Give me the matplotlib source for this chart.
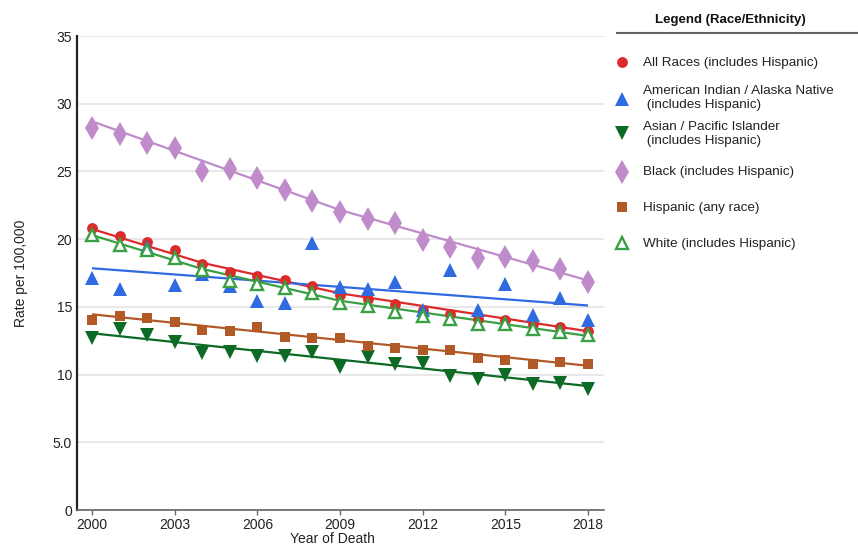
import matplotlib
matplotlib.use("Agg")
import matplotlib.pyplot as plt
from matplotlib.lines import Line2D

plt.rcParams['font.family'] = ['Liberation Sans', 'DejaVu Sans']

# ---- data: age-adjusted rates per 100,000 by year of death ----
years = list(range(2000, 2019))

all_races = [20.8, 20.25, 19.8, 19.2, 18.2, 17.6, 17.3, 16.95, 16.55, 15.85,
             15.55, 15.2, 14.75, 14.5, 14.1, 14.05, 13.7, 13.5, 13.2]
aian = [17.1, 16.35, 19.4, 16.6, 17.45, 16.55, 15.4, 15.3, 19.7, 16.5,
        16.35, 16.85, 14.8, 17.75, 14.8, 16.7, 14.4, 15.65, 14.0]
api = [12.7, 13.4, 12.9, 12.4, 11.6, 11.65, 11.35, 11.35, 11.65, 10.55,
       11.3, 10.75, 10.85, 9.9, 9.7, 10.0, 9.3, 9.35, 8.9]
black = [28.2, 27.75, 27.1, 26.7, 25.0, 25.2, 24.5, 23.6, 22.8, 22.0,
         21.5, 21.2, 19.9, 19.4, 18.6, 18.7, 18.4, 17.8, 16.85]
hispanic = [14.05, 14.35, 14.2, 13.9, 13.3, 13.2, 13.5, 12.8, 12.7, 12.7,
            12.1, 11.95, 11.8, 11.8, 11.25, 11.05, 10.75, 10.9, 10.8]
white = [20.3, 19.6, 19.2, 18.6, 17.7, 16.9, 16.7, 16.4, 16.0, 15.25,
         15.05, 14.6, 14.3, 14.1, 13.7, 13.7, 13.4, 13.15, 12.95]

# joinpoint trend fits (segment end years and fitted values)
all_fit_years = [2000, 2004, 2009, 2018]
all_fit = [20.75, 18.25, 16.0, 13.2]
aian_fit_years = [2000, 2018]
aian_fit = [17.85, 15.1]
api_fit_years = [2000, 2018]
api_fit = [13.05, 9.15]
black_fit_years = [2000, 2009, 2018]
black_fit = [28.7, 22.15, 16.95]
hisp_fit_years = [2000, 2018]
hisp_fit = [14.45, 10.65]
white_fit_years = [2000, 2004, 2009, 2018]
white_fit = [20.3, 17.8, 15.45, 12.85]

series_labels = [
    "All Races (includes Hispanic)",
    "American Indian / Alaska Native\n (includes Hispanic)",
    "Asian / Pacific Islander\n (includes Hispanic)",
    "Black (includes Hispanic)",
    "Hispanic (any race)",
    "White (includes Hispanic)",
]

x_ticks = [2000, 2003, 2006, 2009, 2012, 2015, 2018]
y_ticks = [0, 5, 10, 15, 20, 25, 30, 35]
y_tick_labels = ["0", "5.0", "10", "15", "20", "25", "30", "35"]

# ---- styling ----
RED = "#dd2a2a"
BLUE = "#2f6ae0"
DKGREEN = "#0c6a25"
LAVENDER = "#c08bcb"
BROWN = "#b15a28"
GREEN = "#39a043"

W, H = 858, 546


def fx(px):
    return px / W


def fy(py):
    return 1 - py / H


fig = plt.figure(figsize=(W / 100, H / 100), dpi=100)
ax = fig.add_axes([fx(77), fy(510), (604 - 77) / W, (510 - 36) / H])

styles = [
    dict(marker="o", ms=7.8, mfc=RED, mec=RED, mew=0),
    dict(marker="^", ms=10.2, mfc=BLUE, mec=BLUE, mew=0),
    dict(marker="v", ms=10.2, mfc=DKGREEN, mec=DKGREEN, mew=0),
    dict(marker="d", ms=12.0, mfc=LAVENDER, mec=LAVENDER, mew=0),
    dict(marker="s", ms=7.0, mfc=BROWN, mec=BROWN, mew=0),
    dict(marker="^", ms=9.2, mfc="white", mec=GREEN, mew=1.7),
]
colors = [RED, BLUE, DKGREEN, LAVENDER, BROWN, GREEN]
values = [all_races, aian, api, black, hispanic, white]
fits = [(all_fit_years, all_fit), (aian_fit_years, aian_fit),
        (api_fit_years, api_fit), (black_fit_years, black_fit),
        (hisp_fit_years, hisp_fit), (white_fit_years, white_fit)]

for (fyrs, fvals), c in zip(fits, colors):
    ax.plot(fyrs, fvals, color=c, lw=1.6, zorder=2, solid_capstyle="butt")

for vals, st in zip(values, styles):
    ax.plot(years, vals, linestyle="none", zorder=3, **st)

ax.set_xlim(1999.455, 2018.58)
ax.set_ylim(0, 35)
ax.set_xticks(x_ticks)
ax.set_xticklabels([str(t) for t in x_ticks])
ax.set_yticks(y_ticks)
ax.set_yticklabels(y_tick_labels)

ax.yaxis.grid(True, color="#e6e6e6", lw=1.3, zorder=0)
ax.set_axisbelow(True)

for side in ("top", "right"):
    ax.spines[side].set_visible(False)
ax.spines["left"].set_color("#222222")
ax.spines["left"].set_linewidth(1.6)
ax.spines["bottom"].set_color("#666666")
ax.spines["bottom"].set_linewidth(1.2)

ax.tick_params(axis="y", length=0, pad=3.5, labelsize=10, labelcolor="#222222")
ax.tick_params(axis="x", length=3.5, width=1, color="#666666", pad=2.5,
               labelsize=10, labelcolor="#222222")

fig.text(fx(21), fy(273), "Rate per 100,000", rotation=90, ha="center",
         va="center", fontsize=10, color="#222222")
fig.text(fx(332), fy(532), "Year of Death", ha="center", va="top",
         fontsize=10, color="#222222")

# ---- legend panel ----
fig.text(fx(730), fy(20), "Legend (Race/Ethnicity)", ha="center", va="center",
         fontsize=9.5, fontweight="bold", color="#111111")
fig.add_artist(Line2D([fx(617), fx(858)], [fy(33), fy(33)],
                      transform=fig.transFigure, color="#666666", lw=1.5))

marker_y = [62, 99, 133, 172, 207, 243]
text_y = [63, 98, 134, 172, 208, 244]
for st, my, ty, lab in zip(styles, marker_y, text_y, series_labels):
    fig.add_artist(Line2D([fx(622)], [fy(my)], transform=fig.transFigure,
                          linestyle="none", **st))
    fig.text(fx(643), fy(ty), lab, ha="left", va="center", fontsize=9.7,
             color="#222222", linespacing=1.15)

fig.savefig("out.png", dpi=100)
